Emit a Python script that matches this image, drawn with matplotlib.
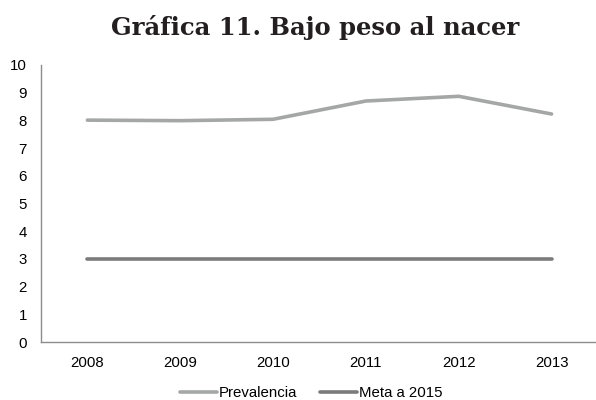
import matplotlib.pyplot as plt

years = ['2008', '2009', '2010', '2011', '2012', '2013']
prevalencia = [8.01, 7.99, 8.04, 8.70, 8.87, 8.23]
meta_2015 = [3, 3, 3, 3, 3, 3]

plt.rcParams['font.family'] = ['Liberation Sans', 'DejaVu Sans']

fig = plt.figure(figsize=(5.96, 4.0), dpi=100)
ax = fig.add_axes([41 / 596, 58 / 400, 557 / 596, 277 / 400])

x = range(len(years))
ax.plot(x, prevalencia, color='#a5a7a7', lw=2.6, solid_capstyle='round', label='Prevalencia')
ax.plot(x, meta_2015, color='#7b7b7b', lw=2.6, solid_capstyle='round', label='Meta a 2015')

ax.set_xlim(-0.5, len(years) - 0.5)
ax.set_ylim(0, 10)
ax.set_yticks(range(0, 11))
ax.set_xticks(list(x))
ax.set_xticklabels(years)
ax.tick_params(length=0, labelsize=10.8, colors='black')
ax.tick_params(axis='y', pad=10)
ax.tick_params(axis='x', pad=10)
for s in ['top', 'right']:
    ax.spines[s].set_visible(False)
for s in ['left', 'bottom']:
    ax.spines[s].set_color('#8c8c8c')
    ax.spines[s].set_linewidth(1.0)

fig.text(0.528, 0.93, 'Gráfica 11. Bajo peso al nacer', ha='center', va='center',
         fontsize=17.5, fontweight='bold', family='DejaVu Serif', color='#231f20')

fig.legend(loc='center', bbox_to_anchor=(0.522, 0.018), ncol=2, frameon=False,
           fontsize=10.8, handlelength=2.5, handletextpad=0.1, columnspacing=1.5,
           borderpad=0)

fig.savefig('out.png', dpi=100, facecolor='white')
